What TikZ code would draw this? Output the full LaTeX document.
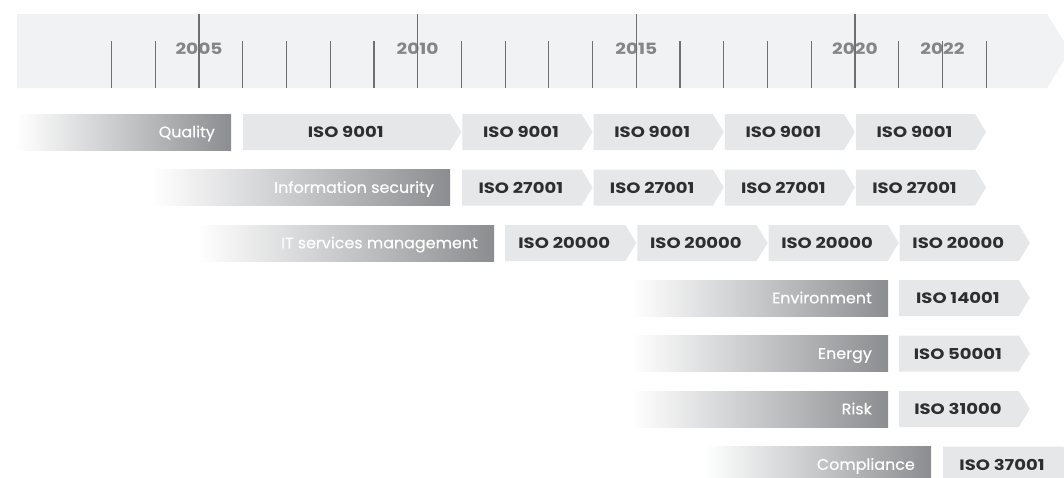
\documentclass[tikz,border=0pt]{standalone}
\usepackage{fontspec}
\setmainfont{Poppins}
\newfontfamily\isofont[FakeStretch=1.2]{Poppins}
\newfontfamily\labfont[FakeStretch=1.04, FakeBold=0.5]{Poppins}
\definecolor{bandc}{HTML}{F1F2F3}
\definecolor{chevc}{HTML}{E6E7E8}
\definecolor{tickc}{HTML}{6F6F70}
\definecolor{yeartxt}{HTML}{858586}
\definecolor{isotxt}{HTML}{2E2E30}
\definecolor{bardark}{HTML}{8C8D90}
\definecolor{barmid}{HTML}{C6C7C9}
\pgfdeclarehorizontalshading{fadebar}{100bp}{color(0bp)=(white); color(25bp)=(white); color(50bp)=(barmid); color(75bp)=(bardark); color(100bp)=(bardark)}
\newcommand\chevbox[5]{%
  \fill[chevc] (#2,#4-18) -- (#3-11,#4-18) -- (#3,#4) -- (#3-11,#4+18) -- (#2,#4+18) -- cycle;
  \node[isolab] (#1) at ({(#2+#3-11)/2-1},#4+5.6) {#5};
}
\newcommand\gradbar[5]{%
  \shade[shading=fadebar] (#2,#4-18) rectangle (#3,#4+18);
  \node[barlab] (#1) at (#3-16,#4+5.3) {#5};
}
\begin{document}
\begin{tikzpicture}[x=1pt,y=-1pt,
  isolab/.style={font=\isofont\fontsize{15}{18}\selectfont\bfseries, text=isotxt, inner sep=0pt, anchor=base},
  barlab/.style={font=\labfont\fontsize{15.3}{18}\selectfont, text=white, anchor=base east, inner sep=0pt},
  yearlab/.style={font=\isofont\fontsize{15.5}{18}\selectfont\bfseries, text=yeartxt, inner sep=0pt, anchor=base},
  tickline/.style={draw=tickc, line width=1.2pt}]
\useasboundingbox (0,0) rectangle (1064,477);
% timeline band
\fill[bandc] (17,14) -- (1047,14) -- (1070,51) -- (1047,88) -- (17,88) -- cycle;
% year labels
\foreach \yr in {2005,2010,2015,2020,2022}
  \node[yearlab] (y\yr) at ({199+(\yr-2005)*43.73},54.3) {\yr};
% ticks
\foreach \yr in {2003,2004,2006,2007,2008,2009,2011,2012,2013,2014,2016,2017,2018,2019,2021,2022,2023}
  \draw[tickline] ({199+(\yr-2005)*43.73},41) -- ++(0,47);
\foreach \yr in {2005,2010,2015,2020}
  \draw[tickline] ({199+(\yr-2005)*43.73},14) -- ++(0,74);
% row 1
\gradbar{q}{17}{231}{132}{Quality}
\chevbox{q1}{243}{461.4}{132}{ISO 9001}
\chevbox{q2}{462.4}{592.6}{132}{ISO 9001}
\chevbox{q3}{593.6}{723.8}{132}{ISO 9001}
\chevbox{q4}{724.8}{854.9}{132}{ISO 9001}
\chevbox{q5}{855.9}{986.1}{132}{ISO 9001}
% row 2
\gradbar{is}{152}{450}{187.5}{Information security}
\chevbox{is1}{462}{592.6}{187.5}{ISO 27001}
\chevbox{is2}{593.6}{723.8}{187.5}{ISO 27001}
\chevbox{is3}{724.8}{854.9}{187.5}{ISO 27001}
\chevbox{is4}{855.9}{986.1}{187.5}{ISO 27001}
% row 3
\gradbar{it}{197}{494}{243}{IT services management}
\chevbox{it1}{505.1}{636.3}{243}{ISO 20000}
\chevbox{it2}{637.3}{767.5}{243}{ISO 20000}
\chevbox{it3}{768.5}{898.7}{243}{ISO 20000}
\chevbox{it4}{899.7}{1029.8}{243}{ISO 20000}
% rows 4-6
\gradbar{env}{632}{888}{298}{Environment}
\chevbox{env1}{899}{1029.8}{298}{ISO 14001}
\gradbar{en}{632}{888}{353.5}{Energy}
\chevbox{en1}{899}{1029.8}{353.5}{ISO 50001}
\gradbar{ri}{632}{888}{409}{Risk}
\chevbox{ri1}{899}{1029.8}{409}{ISO 31000}
% row 7
\gradbar{co}{705}{931}{464.5}{Compliance}
\chevbox{co1}{943}{1074}{464.5}{ISO 37001}
\end{tikzpicture}
\end{document}
